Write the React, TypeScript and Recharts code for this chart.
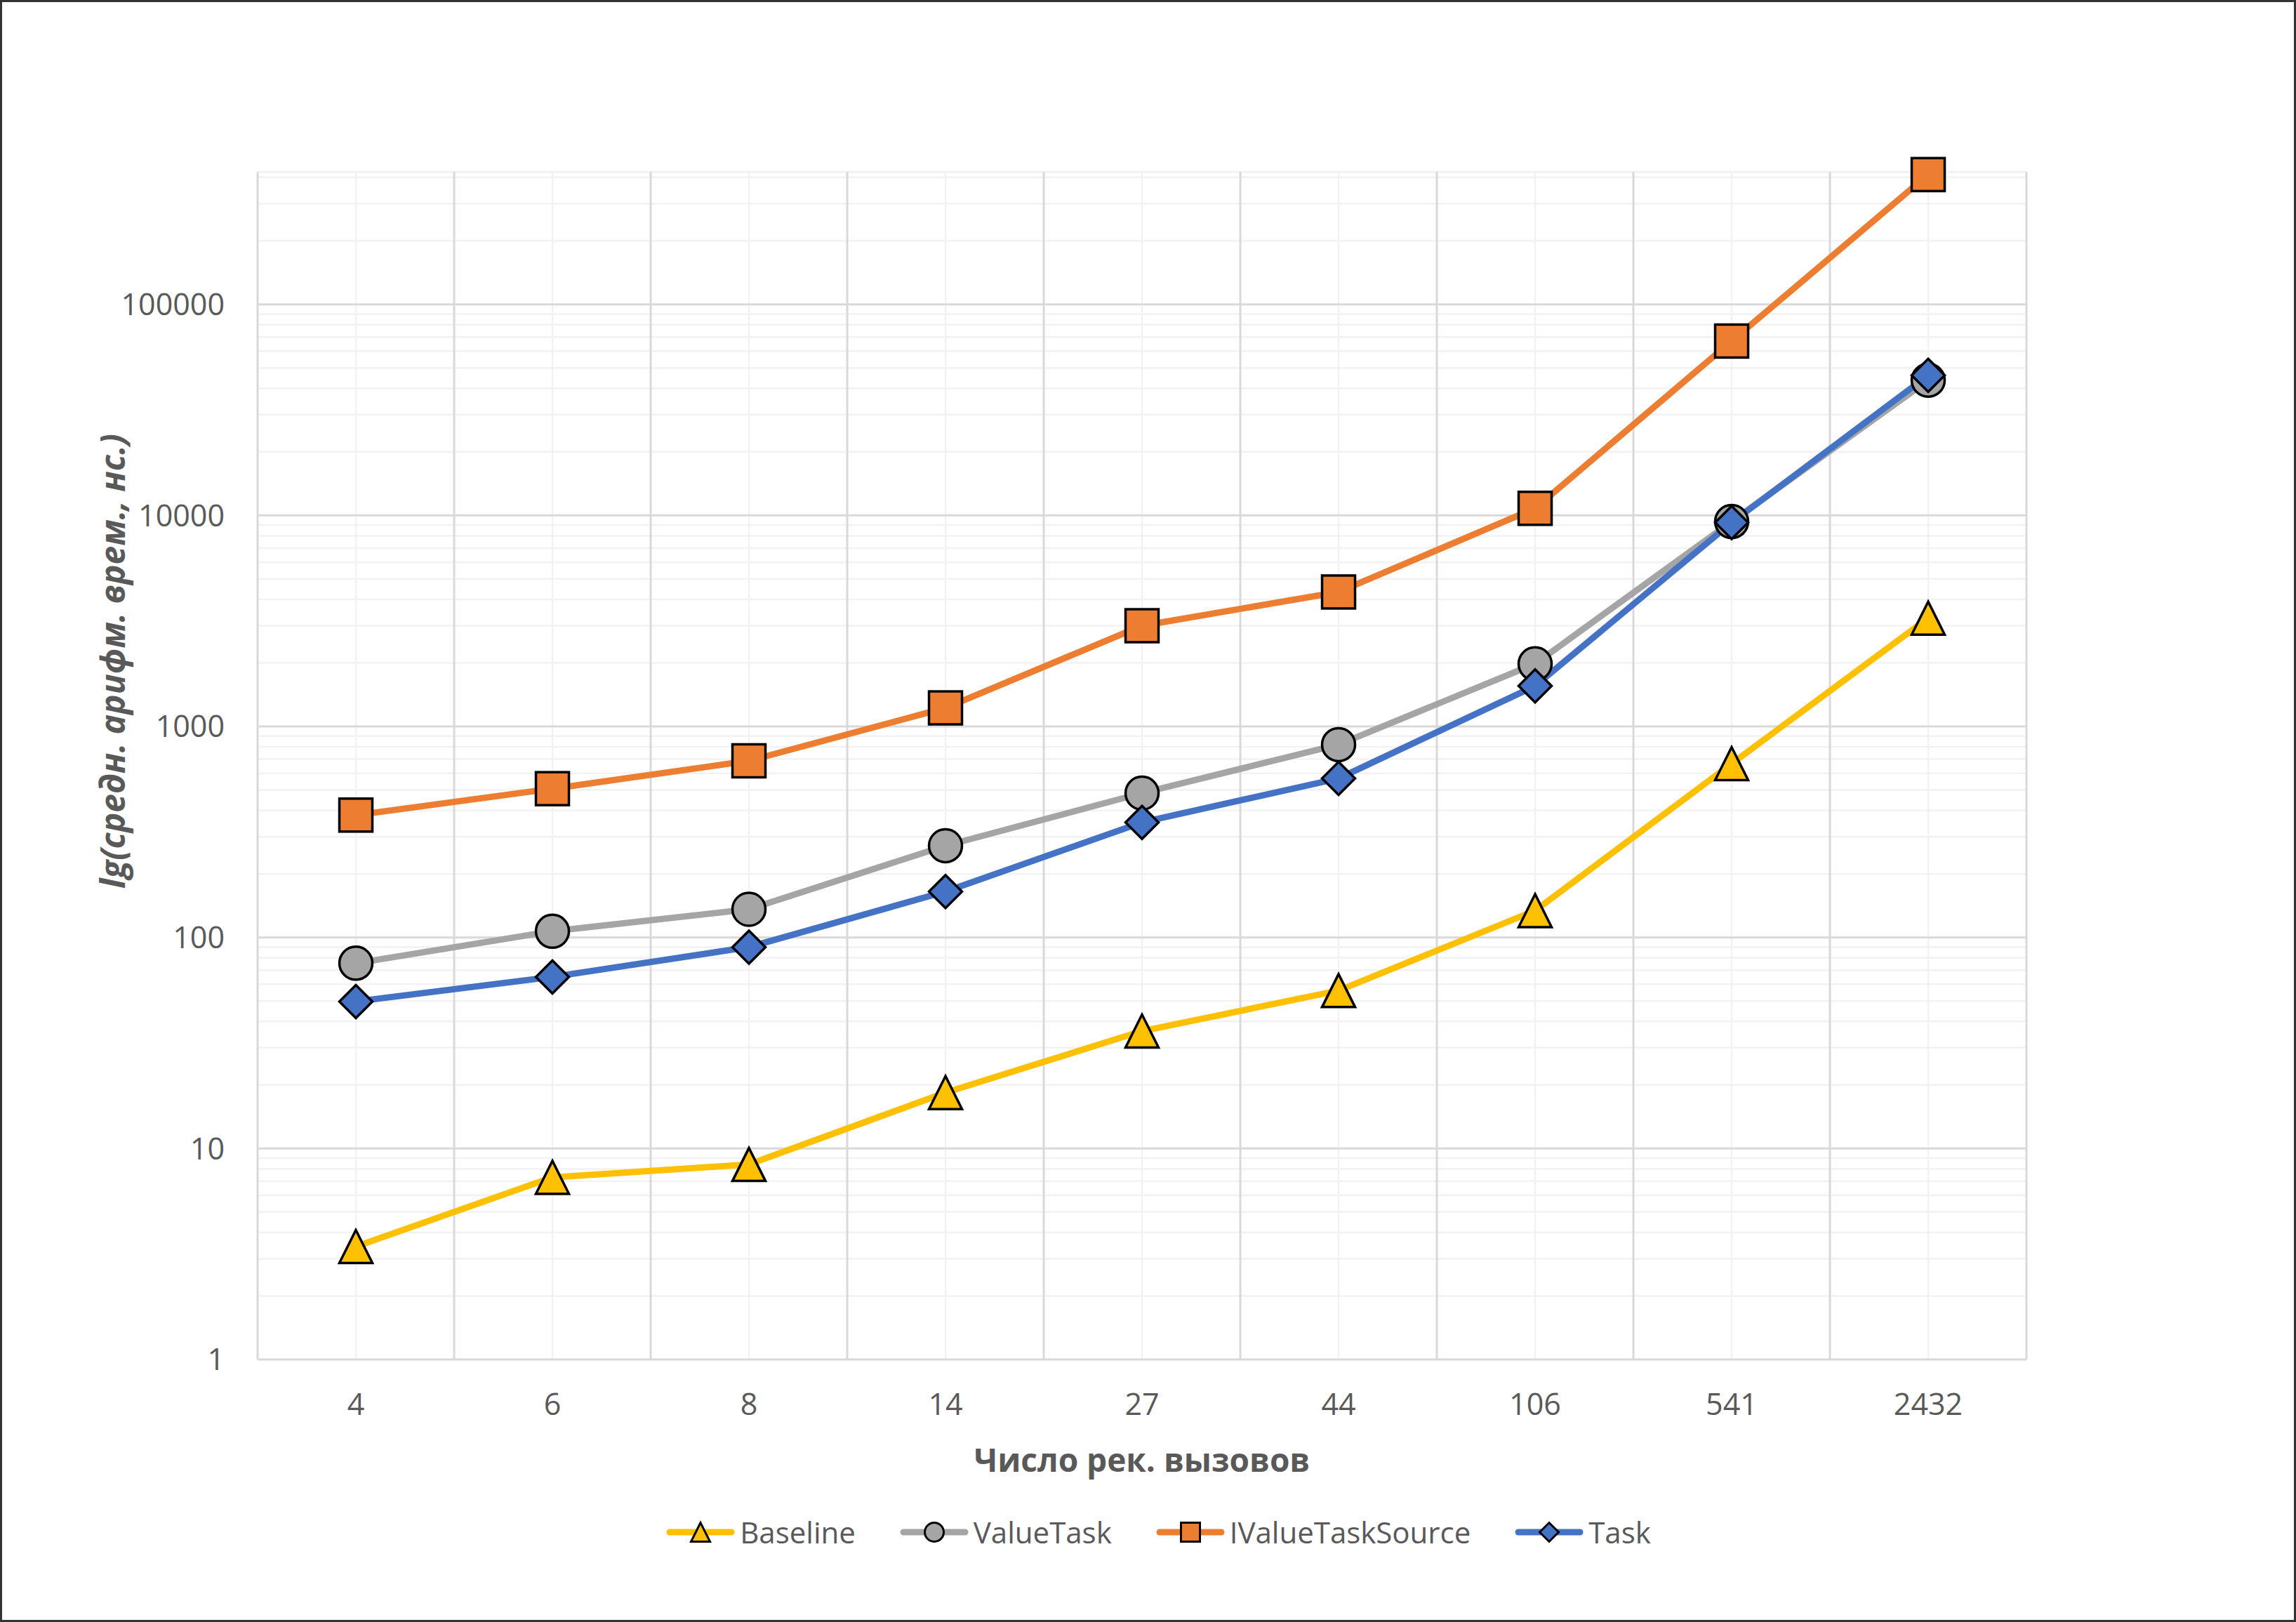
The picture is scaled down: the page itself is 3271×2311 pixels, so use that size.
import React from 'react'
import { LineChart, Line, XAxis, YAxis, ReferenceLine, Legend, Label } from 'recharts'

const CALLS = ['4', '6', '8', '14', '27', '44', '106', '541', '2432']
const BASELINE = [3.43, 7.3, 8.4, 18.4, 36, 56, 134, 666, 3260]
const VALUE_TASK = [75.5, 107, 136, 272, 483, 820, 1980, 9350, 43700]
const IVALUE_TASK_SOURCE = [380, 507, 687, 1224, 3000, 4335, 10800, 67000, 412000]
const TASK = [49.7, 65, 90, 165, 351, 567, 1555, 9250, 46100]

const Y_TICKS = [1, 10, 100, 1000, 10000, 100000]
const Y_MAX = 424000

const W = 3271
const H = 2311
const FONT = "'Open Sans', 'Noto Sans', sans-serif"
const TEXT = '#595959'
const GRID_MAJOR = '#d9d9d9'
const GRID_MINOR = '#f2f2f2'

const data = CALLS.map((c, i) => ({
  i,
  calls: c,
  baseline: BASELINE[i],
  valueTask: VALUE_TASK[i],
  ivts: IVALUE_TASK_SOURCE[i],
  task: TASK[i],
}))

// minor log grid: 2..9 of every decade
const minorY: number[] = []
for (const d of Y_TICKS) {
  for (let m = 2; m <= 9; m++) if (m * d < Y_MAX) minorY.push(m * d)
}
const majorX = CALLS.map((_, i) => i + 0.5)
const minorX = CALLS.map((_, i) => i)

type Shape = 'triangle' | 'circle' | 'square' | 'diamond'

function Marker({ shape, cx, cy, size, fill }: { shape: Shape; cx: number; cy: number; size: number; fill: string }) {
  const h = size / 2
  const sw = size > 35 ? 3.5 : 3
  if (shape === 'triangle')
    return <polygon points={`${cx},${cy - h} ${cx - h},${cy + h} ${cx + h},${cy + h}`} fill={fill} stroke="#000" strokeWidth={sw} strokeLinejoin="miter" />
  if (shape === 'circle') return <circle cx={cx} cy={cy} r={h} fill={fill} stroke="#000" strokeWidth={sw} />
  if (shape === 'square') return <rect x={cx - h} y={cy - h} width={size} height={size} fill={fill} stroke="#000" strokeWidth={sw} />
  return <polygon points={`${cx},${cy - h} ${cx + h},${cy} ${cx},${cy + h} ${cx - h},${cy}`} fill={fill} stroke="#000" strokeWidth={sw} />
}

const SERIES: { key: string; name: string; color: string; shape: Shape }[] = [
  { key: 'baseline', name: 'Baseline', color: '#ffc000', shape: 'triangle' },
  { key: 'valueTask', name: 'ValueTask', color: '#a5a5a5', shape: 'circle' },
  { key: 'ivts', name: 'IValueTaskSource', color: '#ed7d31', shape: 'square' },
  { key: 'task', name: 'Task', color: '#4472c4', shape: 'diamond' },
]

const dotFor = (shape: Shape, color: string) => (p: any) =>
  <Marker key={`${shape}-${p.index}`} shape={shape} cx={p.cx} cy={p.cy} size={47} fill={color} />

function LegendContent() {
  return (
    <div style={{ height: 80, display: 'flex', alignItems: 'center', justifyContent: 'center', paddingLeft: 30, fontFamily: FONT, fontSize: 42, color: TEXT }}>
      {SERIES.map((s, i) => (
        <div key={s.key} style={{ display: 'flex', alignItems: 'center', marginRight: i < SERIES.length - 1 ? 63 : 0 }}>
          <svg width={98} height={40} style={{ marginRight: 7 }}>
            <line x1={5} y1={20} x2={93} y2={20} stroke={s.color} strokeWidth={9} strokeLinecap="round" />
            <Marker shape={s.shape} cx={49} cy={20} size={27} fill={s.color} />
          </svg>
          <span style={{ lineHeight: 1 }}>{s.name}</span>
        </div>
      ))}
    </div>
  )
}

export default function App() {
  return (
    <div style={{ position: 'absolute', left: 0, top: 0, width: W, height: H, background: '#fff' }}>
      <LineChart width={W} height={H} data={data} margin={{ top: 245, right: 384, left: 167, bottom: 88 }}>
        {minorY.map((v) => (
          <ReferenceLine key={`my${v}`} y={v} stroke={GRID_MINOR} strokeWidth={2.5} />
        ))}
        <ReferenceLine y={Y_MAX} stroke={GRID_MINOR} strokeWidth={3} />
        {minorX.map((v) => (
          <ReferenceLine key={`mx${v}`} x={v} stroke={GRID_MINOR} strokeWidth={2.5} />
        ))}
        {Y_TICKS.slice(1).map((v) => (
          <ReferenceLine key={`Y${v}`} y={v} stroke={GRID_MAJOR} strokeWidth={3} />
        ))}
        {majorX.map((v) => (
          <ReferenceLine key={`X${v}`} x={v} stroke={GRID_MAJOR} strokeWidth={3} />
        ))}
        <XAxis
          dataKey="i"
          type="number"
          domain={[-0.5, CALLS.length - 0.5]}
          ticks={minorX}
          tickFormatter={(v: number) => CALLS[v]}
          height={206}
          tickLine={false}
          tickSize={0}
          tickMargin={48}
          axisLine={{ stroke: GRID_MAJOR, strokeWidth: 3 }}
          tick={{ fill: TEXT, fontSize: 43, fontFamily: FONT }}
        >
          <Label
            content={(p: any) => (
              <text x={p.viewBox.x + p.viewBox.width / 2} y={p.viewBox.y + 160} textAnchor="middle" fill={TEXT} fontSize={46} fontWeight="bold" fontFamily={FONT}>
                Число рек. вызовов
              </text>
            )}
          />
        </XAxis>
        <YAxis
          scale="log"
          type="number"
          domain={[1, Y_MAX]}
          ticks={Y_TICKS}
          width={200}
          tickLine={false}
          tickSize={0}
          tickMargin={47}
          axisLine={{ stroke: GRID_MAJOR, strokeWidth: 3 }}
          tick={{ fill: TEXT, fontSize: 43, fontFamily: FONT }}
        >
          <Label
            content={(p: any) => {
              const x = p.viewBox.x + 11
              const y = p.viewBox.y + p.viewBox.height / 2 - 149
              return (
                <text x={x} y={y} transform={`rotate(-90 ${x} ${y})`} textAnchor="middle" fill={TEXT} fontSize={48} fontWeight="bold" fontStyle="italic" fontFamily={FONT}>
                  lg(средн. арифм. врем., нс.)
                </text>
              )
            }}
          />
        </YAxis>
        {SERIES.map((s) => (
          <Line
            key={s.key}
            dataKey={s.key}
            name={s.name}
            stroke={s.color}
            strokeWidth={9}
            strokeLinejoin="round"
            strokeLinecap="round"
            dot={dotFor(s.shape, s.color)}
            activeDot={false}
            isAnimationActive={false}
          />
        ))}
        <Legend verticalAlign="bottom" content={() => <LegendContent />} wrapperStyle={{ left: 0, width: W }} />
      </LineChart>
      <div style={{ position: 'absolute', inset: 0, border: '3px solid #333', pointerEvents: 'none' }} />
    </div>
  )
}
